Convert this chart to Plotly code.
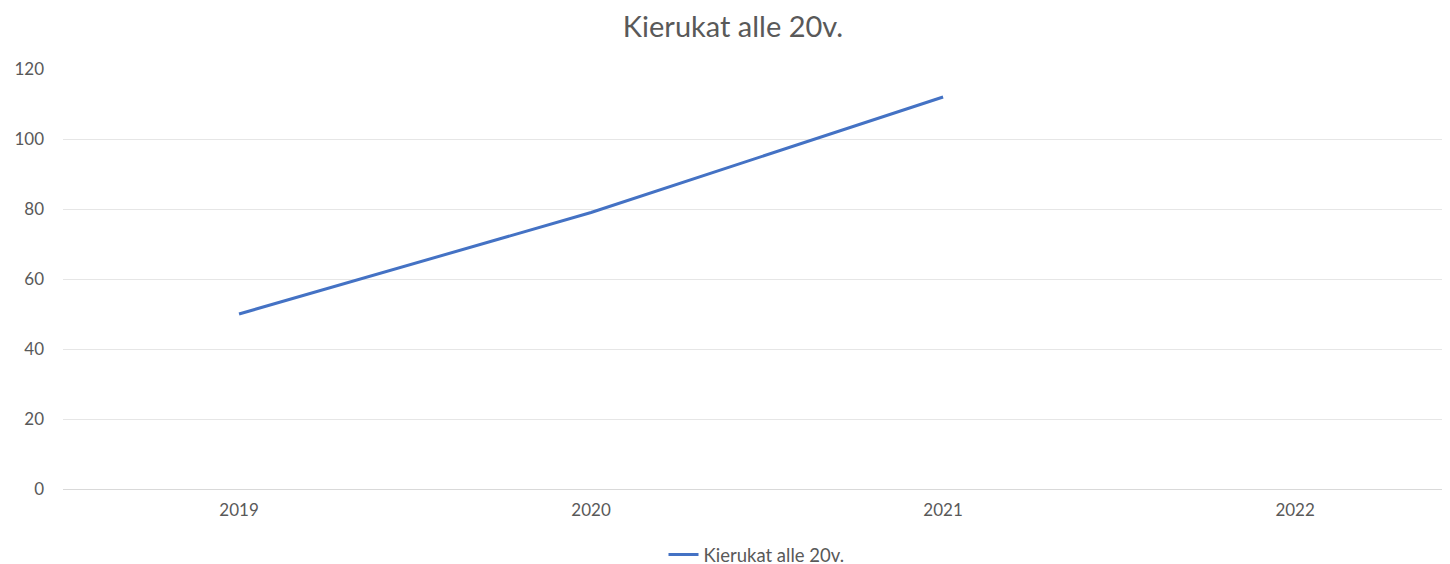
import plotly.graph_objects as go

years = ["2019", "2020", "2021", "2022"]
values = [50, 79, 112, None]
series_name = "Kierukat alle 20v."
y_ticks = [0, 20, 40, 60, 80, 100, 120]

fig = go.Figure()
fig.add_trace(go.Scatter(
    x=years, y=values, mode="lines", name=series_name,
    line=dict(color="#4472C4", width=3), connectgaps=False,
))

fig.update_layout(
    width=1450, height=564,
    margin=dict(l=55, r=8, t=61, b=83, autoexpand=False),
    paper_bgcolor="white", plot_bgcolor="white",
    font=dict(family="Lato, Open Sans, sans-serif", color="#595959", size=17),
    title=dict(text="Kierukat alle 20v.", x=0.5, xanchor="center", y=0.966, yanchor="middle",
               font=dict(size=29, color="#595959")),
    showlegend=True,
    legend=dict(orientation="h", x=0.5, xanchor="center", y=-0.157, yanchor="middle",
                font=dict(size=18.5, color="#595959"), itemwidth=30),
    xaxis=dict(type="category", range=[-0.5, 3.44], showgrid=False, automargin=False,
               showline=True, linecolor="#d9d9d9", linewidth=1, ticks="",
               tickfont=dict(size=17, color="#595959"), ticklabelstandoff=6),
    yaxis=dict(range=[0, 120], tickvals=y_ticks, showgrid=True, gridcolor="#e6e6e6",
               gridwidth=1, zeroline=False, showline=False, ticks="", automargin=False,
               tickfont=dict(size=17, color="#595959"), ticklabelstandoff=18),
)

fig.write_html("out.html")
